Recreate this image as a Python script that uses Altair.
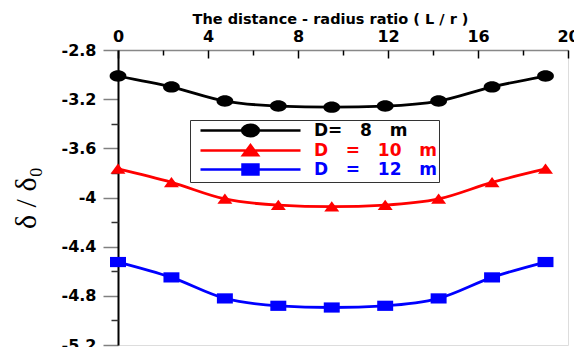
import altair as alt
import pandas as pd

# ---- data ----
x_ratio = [0, 2.375, 4.75, 7.125, 9.5, 11.875, 14.25, 16.625, 19]
d8 = [-3.012, -3.100, -3.215, -3.256, -3.265, -3.256, -3.215, -3.100, -3.012]
d10 = [-3.768, -3.877, -4.012, -4.062, -4.075, -4.062, -4.012, -3.877, -3.768]
d12 = [-4.525, -4.650, -4.821, -4.881, -4.895, -4.881, -4.821, -4.650, -4.525]

nb = "\u00a0"
series_names = [
    "D=" + nb * 3 + "8" + nb * 3 + "m" + nb * 3,
    "D" + nb * 3 + "=" + nb * 3 + "10" + nb * 3 + "m" + nb * 3,
    "D" + nb * 3 + "=" + nb * 3 + "12" + nb * 3 + "m" + nb * 3,
]
series_colors = ["#000000", "#ff0000", "#0000ff"]

x_major = [0, 4, 8, 12, 16, 20]
x_minor = [2, 6, 10, 14, 18]
y_major = [-2.8, -3.2, -3.6, -4.0, -4.4, -4.8, -5.2]
y_minor = [-3.0, -3.4, -3.8, -4.2, -4.6, -5.0]

rows = []
for name, vals in zip(series_names, [d8, d10, d12]):
    for xv, yv in zip(x_ratio, vals):
        rows.append({"x": xv, "y": yv, "series": name, "marker": name})
df = pd.DataFrame(rows)


def ellipse(cx, rx, ry):
    k = 0.5523
    return (
        f"M{cx + rx},0C{cx + rx},{k * ry} {cx + k * rx},{ry} {cx},{ry}"
        f"C{cx - k * rx},{ry} {cx - rx},{k * ry} {cx - rx},0"
        f"C{cx - rx},{-k * ry} {cx - k * rx},{-ry} {cx},{-ry}"
        f"C{cx + k * rx},{-ry} {cx + rx},{-k * ry} {cx + rx},0Z"
    )


# marker shapes (custom paths) for the plot points
pt_paths = [
    ellipse(0, 1.4, 0.95),
    "M-1.25,0.8L0,-0.9L1.25,0.8Z",
    "M-1.33,-0.85H1.33V0.85H-1.33Z",
]
# legend symbols: line + marker
lg_line = "M-1,0L15.67,0"
lg_circle = lg_line + ellipse(7.33, 1.4, 0.95)
lg_tri = lg_line + "M6.08,0.8L7.33,-0.9L8.58,0.8Z"
lg_sq = lg_line + "M6,-0.85H8.66V0.85H6Z"

sym_expr = (
    "indexof(datum.label, '8') >= 0 ? '" + lg_circle + "' : "
    "(indexof(datum.label, '10') >= 0 ? '" + lg_tri + "' : '" + lg_sq + "')"
)
col_expr = (
    "indexof(datum.label, '8') >= 0 ? '#000000' : "
    "(indexof(datum.label, '10') >= 0 ? '#ff0000' : '#0000ff')"
)

xscale = alt.Scale(domain=[0, 20], nice=False, zero=False)
yscale = alt.Scale(domain=[-5.2, -2.8], nice=False, zero=False)
cscale = alt.Scale(domain=series_names, range=series_colors)

base = alt.Chart(df)

tick_font = "DejaVu Sans"

x_label_axis = alt.Axis(
    orient="top", values=x_major, ticks=False, domain=True, domainColor="#888888",
    domainWidth=1.5, labelFont=tick_font, labelFontWeight="bold", labelFontSize=16,
    labelColor="black", labelPadding=6, labelFlush=False, grid=False,
    title="The distance - radius ratio ( L / r )", titleFont=tick_font,
    titleFontWeight="bold", titleFontSize=14.5, titleColor="black",
    titleX=212, titleY=-27, titleAlign="center", titleBaseline="alphabetic",
)
x_major_axis = alt.Axis(
    orient="top", values=x_major, labels=False, domain=False, ticks=True,
    tickSize=8, offset=-8, tickColor="black", tickWidth=1.5, title=None, grid=False,
)
x_minor_axis = alt.Axis(
    orient="top", values=x_minor, labels=False, domain=False, ticks=True,
    tickSize=5, offset=-5, tickColor="black", tickWidth=1.5, title=None, grid=False,
)
y_major_axis = alt.Axis(
    orient="left", values=y_major, labelExpr="'' + datum.value", tickSize=15,
    tickColor="#808080", tickWidth=1.5, domainColor="black", domainWidth=2,
    labelFont=tick_font, labelFontWeight="bold", labelFontSize=16, labelColor="black",
    labelPadding=7, labelFlush=False, grid=False, title="δ / δ₀",
    titleFont="Liberation Serif", titleFontSize=30, titleFontWeight="normal",
    titleColor="black", titleAngle=270, titleX=-92, titleY=147.5,
    titleAlign="center", titleBaseline="middle",
)
y_minor_axis = alt.Axis(
    orient="left", values=y_minor, labels=False, domain=False, tickSize=7,
    tickColor="#333333", tickWidth=1.5, title=None, grid=False,
)

legend = alt.Legend(
    title=None, orient="none", legendX=72, legendY=70,
    symbolType={"expr": sym_expr}, symbolSize=144, symbolOffset=6,
    symbolStrokeWidth=2.5, symbolStrokeColor={"expr": col_expr},
    symbolFillColor={"expr": col_expr}, symbolOpacity=1, labelOffset=99,
    labelFont=tick_font, labelFontWeight="bold", labelFontSize=17,
    labelColor={"expr": col_expr}, labelLimit=400,
    padding=2, rowPadding=-5, strokeColor="#333333", fillColor="white",
)

lines = base.mark_line(interpolate="monotone", strokeWidth=2.8).encode(
    x=alt.X("x:Q", scale=xscale, axis=x_label_axis),
    y=alt.Y("y:Q", scale=yscale, axis=y_major_axis),
    color=alt.Color("series:N", scale=cscale, legend=None, sort=series_names),
)

points = base.mark_point(filled=True, size=144, opacity=1).encode(
    x=alt.X("x:Q", scale=xscale, axis=x_major_axis),
    y=alt.Y("y:Q", scale=yscale, axis=y_minor_axis),
    color=alt.Color("series:N", scale=cscale, sort=series_names, legend=legend),
    shape=alt.Shape("marker:N", scale=alt.Scale(domain=series_names, range=pt_paths), legend=None),
)

minor = base.mark_point(opacity=0).encode(
    x=alt.X("x:Q", scale=xscale, axis=x_minor_axis),
    y=alt.Y("y:Q", scale=yscale, axis=None),
)

chart = alt.layer(lines, points, minor).resolve_axis(
    x="independent", y="independent"
).resolve_legend(color="independent").properties(
    width=450, height=295,
    title=alt.TitleParams(
        "and different case of loading.", font=tick_font, fontSize=16,
        fontWeight="bold", color="black", anchor="middle", dx=-51, offset=3,
    ),
    autosize=alt.AutoSizeParams(type="none"),
    padding={"left": 110, "top": 42, "right": 6, "bottom": 2},
).configure_view(stroke="black", strokeWidth=2).configure_legend(
    strokeWidth=1, cornerRadius=8
).configure(background="white")

chart.save("out.html", embed_options={"renderer": "svg", "actions": False})
